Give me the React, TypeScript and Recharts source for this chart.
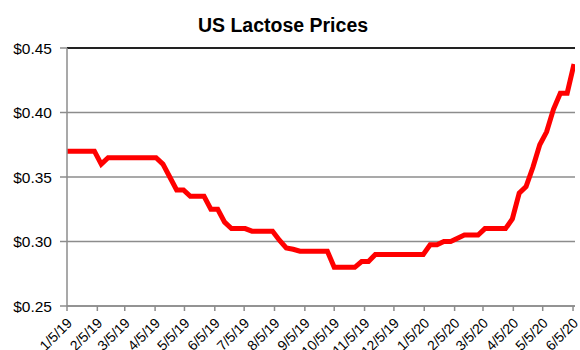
import { LineChart, Line, XAxis, YAxis, CartesianGrid, ReferenceLine } from 'recharts'

// weekly price observations (Saturdays)
const weeks = [
  '2019-01-05', '2019-01-12', '2019-01-19', '2019-01-26',
  '2019-02-02', '2019-02-09', '2019-02-16', '2019-02-23',
  '2019-03-02', '2019-03-09', '2019-03-16', '2019-03-23', '2019-03-30',
  '2019-04-06', '2019-04-13', '2019-04-20', '2019-04-27',
  '2019-05-04', '2019-05-11', '2019-05-18', '2019-05-25',
  '2019-06-01', '2019-06-08', '2019-06-15', '2019-06-22', '2019-06-29',
  '2019-07-06', '2019-07-13', '2019-07-20', '2019-07-27',
  '2019-08-03', '2019-08-10', '2019-08-17', '2019-08-24', '2019-08-31',
  '2019-09-07', '2019-09-14', '2019-09-21', '2019-09-28',
  '2019-10-05', '2019-10-12', '2019-10-19', '2019-10-26',
  '2019-11-02', '2019-11-09', '2019-11-16', '2019-11-23', '2019-11-30',
  '2019-12-07', '2019-12-14', '2019-12-21', '2019-12-28',
  '2020-01-04', '2020-01-11', '2020-01-18', '2020-01-25',
  '2020-02-01', '2020-02-08', '2020-02-15', '2020-02-22', '2020-02-29',
  '2020-03-07', '2020-03-14', '2020-03-21', '2020-03-28',
  '2020-04-04', '2020-04-11', '2020-04-18', '2020-04-25',
  '2020-05-02', '2020-05-09', '2020-05-16', '2020-05-23', '2020-05-30',
  '2020-06-06',
]

const prices = [
  0.37, 0.37, 0.37, 0.37,
  0.37, 0.36, 0.365, 0.365,
  0.365, 0.365, 0.365, 0.365, 0.365,
  0.365, 0.36, 0.35, 0.34,
  0.34, 0.335, 0.335, 0.335,
  0.325, 0.325, 0.315, 0.31, 0.31,
  0.31, 0.308, 0.308, 0.308,
  0.308, 0.301, 0.295, 0.294, 0.2925,
  0.2925, 0.2925, 0.2925, 0.2925,
  0.28, 0.28, 0.28, 0.28,
  0.2845, 0.2845, 0.29, 0.29, 0.29,
  0.29, 0.29, 0.29, 0.29,
  0.29, 0.2975, 0.2975, 0.3,
  0.3, 0.3025, 0.305, 0.305, 0.305,
  0.31, 0.31, 0.31, 0.31,
  0.3175, 0.3375, 0.3425, 0.3575,
  0.375, 0.385, 0.4025, 0.415, 0.415,
  0.4375,
]

const monthTicks = [
  '2019-01-05', '2019-02-05', '2019-03-05', '2019-04-05', '2019-05-05', '2019-06-05',
  '2019-07-05', '2019-08-05', '2019-09-05', '2019-10-05', '2019-11-05', '2019-12-05',
  '2020-01-05', '2020-02-05', '2020-03-05', '2020-04-05', '2020-05-05', '2020-06-05',
]

const priceTicks = [0.25, 0.3, 0.35, 0.4, 0.45]

const toTime = (s: string) => {
  const [y, m, d] = s.split('-').map(Number)
  return Date.UTC(y, m - 1, d)
}

const data = weeks.map((w, i) => ({ t: toTime(w), price: prices[i] }))
const xTicks = monthTicks.map(toTime)
const xDomain = [toTime('2019-01-05'), toTime('2020-06-07')]

const fmtDate = (t: number) => {
  const d = new Date(t)
  return `${d.getUTCMonth() + 1}/${d.getUTCDate()}/${String(d.getUTCFullYear()).slice(2)}`
}

const FONT = 'Liberation Sans, Arial, sans-serif'

// slanted date label, right end of the baseline just below-right of the tick
function DateTick({ x, y, payload }: any) {
  const bx = x + 6
  const by = y + 13
  return (
    <text
      x={bx}
      y={by}
      transform={`rotate(-45 ${bx} ${by})`}
      textAnchor="end"
      fontSize={14}
      fontFamily={FONT}
      fill="#000"
    >
      {fmtDate(payload.value)}
    </text>
  )
}

export default function App() {
  return (
    <div style={{ position: 'absolute', left: 0, top: 0, width: 580, height: 350, background: '#fff' }}>
      <LineChart
        width={580}
        height={350}
        data={data}
        margin={{ top: 48, right: 5, bottom: 0, left: 0 }}
      >
        <text x={283} y={32} textAnchor="middle" fontSize={19.5} fontWeight="bold" fontFamily={FONT}>
          US Lactose Prices
        </text>
        <CartesianGrid vertical={false} stroke="#8c8c8c" strokeWidth={1.5} />
        <ReferenceLine y={0.45} stroke="#222" strokeWidth={2} />
        <XAxis
          dataKey="t"
          type="number"
          domain={xDomain}
          ticks={xTicks}
          allowDataOverflow
          height={44}
          stroke="#8c8c8c"
          strokeWidth={1.5}
          tickSize={5}
          tickMargin={0}
          interval={0}
          tick={<DateTick />}
        />
        <YAxis
          domain={[0.25, 0.45]}
          ticks={priceTicks}
          width={67}
          stroke="#8c8c8c"
          strokeWidth={1.5}
          tickSize={7}
          tickMargin={8}
          tickFormatter={(v: number) => `$${v.toFixed(2)}`}
          tick={{ fill: '#000', fontSize: 15.5, fontFamily: FONT }}
        />
        <Line
          type="linear"
          dataKey="price"
          stroke="#ff0000"
          strokeWidth={5}
          dot={false}
          isAnimationActive={false}
        />
      </LineChart>
    </div>
  )
}
